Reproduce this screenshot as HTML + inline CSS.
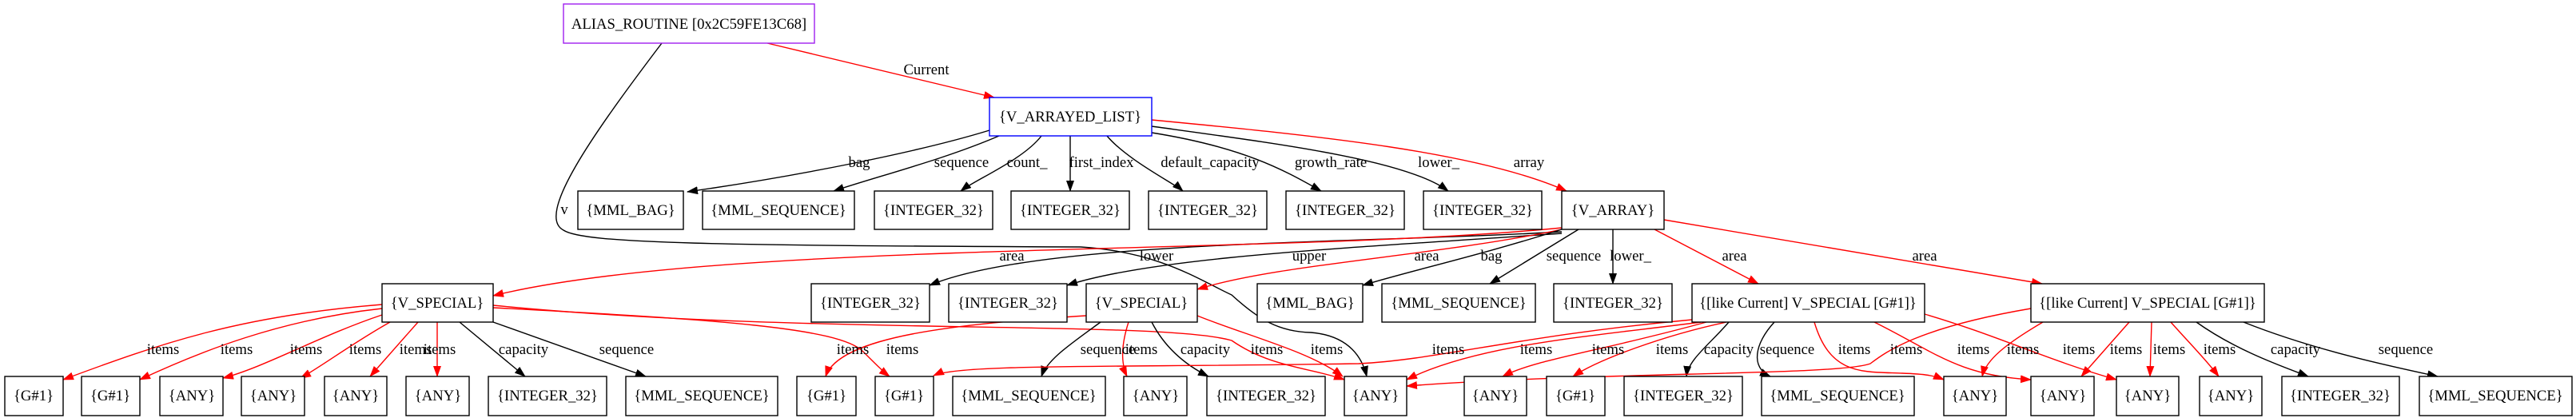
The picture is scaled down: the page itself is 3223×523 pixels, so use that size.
<!DOCTYPE html>
<html><head><meta charset="utf-8"><style>
html,body{margin:0;padding:0;background:#fff;}
svg{display:block;}
text{font-family:"Liberation Serif",serif;font-size:18.7px;fill:#000;}
.n rect{fill:#fff;stroke:#000;stroke-width:1.4;}
.e{fill:none;stroke:#000;stroke-width:1.4;}
.r{fill:none;stroke:#f00;stroke-width:1.4;}
</style></head><body>
<svg width="3223" height="523" viewBox="0 0 3223 523" xmlns="http://www.w3.org/2000/svg">
<defs>
<marker id="ab" markerWidth="14" markerHeight="10" refX="13" refY="5" orient="auto" markerUnits="userSpaceOnUse"><path d="M0,0 L14,5 L0,10z" fill="#000"/></marker>
<marker id="ar" markerWidth="14" markerHeight="10" refX="13" refY="5" orient="auto" markerUnits="userSpaceOnUse"><path d="M0,0 L14,5 L0,10z" fill="#f00"/></marker>
</defs>
<g id="edges">
<path class="r" marker-end="url(#ar)" d="M960,54 L1244,122"/>
<path class="e" marker-end="url(#ab)" d="M828,54 C740,170 670,270 705,288 C730,305 900,307 1352,309 C1450,315 1500,350 1541,369 C1575,400 1600,415 1640,416 C1690,420 1705,450 1710,471"/>
<path class="e" marker-end="url(#ab)" d="M1238,163 C1150,190 1000,220 860,240"/>
<path class="e" marker-end="url(#ab)" d="M1250,170 C1180,200 1100,220 1043,239"/>
<path class="e" marker-end="url(#ab)" d="M1303,170 C1280,200 1220,225 1202,239"/>
<path class="e" marker-end="url(#ab)" d="M1339,170 L1339,239"/>
<path class="e" marker-end="url(#ab)" d="M1385,170 C1410,200 1470,230 1480,239"/>
<path class="e" marker-end="url(#ab)" d="M1441,166 C1560,185 1610,215 1653,239"/>
<path class="e" marker-end="url(#ab)" d="M1441,158 C1600,180 1760,200 1812,239"/>
<path class="r" marker-end="url(#ar)" d="M1441,150 C1650,170 1850,190 1960,239"/>
<path class="e" marker-end="url(#ab)" d="M1954,290 C1700,305 1300,300 1163,357"/>
<path class="e" marker-end="url(#ab)" d="M1954,292 C1700,310 1450,320 1335,357"/>
<path class="r" marker-end="url(#ar)" d="M1954,287 C1800,320 1600,330 1498,362"/>
<path class="r" marker-end="url(#ar)" d="M1954,285 C1600,320 900,300 617,370"/>
<path class="e" marker-end="url(#ab)" d="M1954,287 C1850,320 1760,340 1705,357"/>
<path class="e" marker-end="url(#ab)" d="M1975,287 L1864,355"/>
<path class="e" marker-end="url(#ab)" d="M2018,287 L2018,355"/>
<path class="r" marker-end="url(#ar)" d="M2070,287 L2200,355"/>
<path class="r" marker-end="url(#ar)" d="M2082,275 L2555,355"/>
<path class="r" marker-end="url(#ar)" d="M478,381 C300,395 200,430 79,475"/>
<path class="r" marker-end="url(#ar)" d="M478,386 C350,400 250,440 175,475"/>
<path class="r" marker-end="url(#ar)" d="M478,394 C400,420 330,460 279,473"/>
<path class="r" marker-end="url(#ar)" d="M488,403 C440,430 400,460 376,473"/>
<path class="r" marker-end="url(#ar)" d="M523,403 L463,471"/>
<path class="r" marker-end="url(#ar)" d="M547,403 L547,471"/>
<path class="e" marker-end="url(#ab)" d="M575,403 L657,471"/>
<path class="e" marker-end="url(#ab)" d="M617,403 L808,471"/>
<path class="r" marker-end="url(#ar)" d="M617,385 C900,400 1050,410 1080,440 C1095,455 1105,465 1113,471"/>
<path class="r" marker-end="url(#ar)" d="M617,382 C1000,420 1450,400 1541,426 C1590,460 1640,460 1682,475"/>
<path class="r" marker-end="url(#ar)" d="M1359,395 C1200,405 1050,420 1033,471"/>
<path class="e" marker-end="url(#ab)" d="M1377,403 C1340,430 1310,450 1303,471"/>
<path class="r" marker-end="url(#ar)" d="M1412,403 C1400,440 1405,460 1410,471"/>
<path class="e" marker-end="url(#ab)" d="M1441,403 C1460,440 1490,460 1512,471"/>
<path class="r" marker-end="url(#ar)" d="M1498,395 C1560,420 1640,440 1680,471"/>
<path class="r" marker-end="url(#ar)" d="M2117,400 C1900,420 1800,450 1700,455 C1400,460 1200,455 1168,470"/>
<path class="r" marker-end="url(#ar)" d="M2128,403 C2000,420 1850,430 1760,475"/>
<path class="r" marker-end="url(#ar)" d="M2135,403 C2000,440 1920,450 1880,471"/>
<path class="r" marker-end="url(#ar)" d="M2160,403 C2080,420 2000,450 1968,471"/>
<path class="e" marker-end="url(#ab)" d="M2163,403 C2140,430 2112,450 2110,471"/>
<path class="e" marker-end="url(#ab)" d="M2220,403 C2195,430 2190,460 2215,471"/>
<path class="r" marker-end="url(#ar)" d="M2270,403 C2290,470 2330,465 2380,467 C2410,468 2420,470 2432,475"/>
<path class="r" marker-end="url(#ar)" d="M2345,403 C2420,440 2450,470 2541,475"/>
<path class="r" marker-end="url(#ar)" d="M2408,393 C2500,420 2560,450 2648,475"/>
<path class="r" marker-end="url(#ar)" d="M2541,386 C2400,410 2360,440 2340,455 C2300,470 2000,465 1760,483"/>
<path class="r" marker-end="url(#ar)" d="M2556,403 C2510,430 2485,450 2480,471"/>
<path class="r" marker-end="url(#ar)" d="M2664,403 L2604,471"/>
<path class="r" marker-end="url(#ar)" d="M2692,403 L2690,471"/>
<path class="r" marker-end="url(#ar)" d="M2716,403 C2740,430 2760,450 2776,471"/>
<path class="e" marker-end="url(#ab)" d="M2748,403 C2800,440 2860,460 2888,471"/>
<path class="e" marker-end="url(#ab)" d="M2807,403 C2900,440 3000,460 3050,471"/>
</g>
<g id="labels" text-anchor="middle">
<text x="1159" y="93">Current</text>
<text x="706" y="268">v</text>
<text x="1075" y="209">bag</text><text x="1203" y="209">sequence</text><text x="1285" y="209">count_</text>
<text x="1378" y="209">first_index</text><text x="1514" y="209">default_capacity</text><text x="1665" y="209">growth_rate</text>
<text x="1800" y="209">lower_</text><text x="1913" y="209">array</text>
<text x="1266" y="326">area</text><text x="1447" y="326">lower</text><text x="1638" y="326">upper</text>
<text x="1785" y="326">area</text><text x="1866" y="326">bag</text><text x="1969" y="326">sequence</text>
<text x="2040" y="326">lower_</text><text x="2170" y="326">area</text><text x="2408" y="326">area</text>
<text x="204" y="443">items</text><text x="296" y="443">items</text><text x="383" y="443">items</text>
<text x="457" y="443">items</text><text x="520" y="443">items</text><text x="550" y="443">items</text>
<text x="655" y="443">capacity</text><text x="784" y="443">sequence</text>
<text x="1067" y="443">items</text><text x="1129" y="443">items</text>
<text x="1386" y="443">sequence</text><text x="1428" y="443">items</text><text x="1508" y="443">capacity</text>
<text x="1585" y="443">items</text><text x="1660" y="443">items</text>
<text x="1812" y="443">items</text><text x="1922" y="443">items</text><text x="2012" y="443">items</text>
<text x="2092" y="443">items</text><text x="2163" y="443">capacity</text><text x="2236" y="443">sequence</text>
<text x="2320" y="443">items</text><text x="2385" y="443">items</text><text x="2469" y="443">items</text>
<text x="2531" y="443">items</text><text x="2601" y="443">items</text><text x="2660" y="443">items</text>
<text x="2714" y="443">items</text><text x="2777" y="443">items</text>
<text x="2872" y="443">capacity</text><text x="3010" y="443">sequence</text>
</g>
<g class="n" text-anchor="middle">
<rect x="705" y="5" width="314" height="49" style="stroke:#a020f0"/><text x="862" y="36">ALIAS_ROUTINE [0x2C59FE13C68]</text>
<rect x="1238" y="122" width="203" height="48" style="stroke:#00f"/><text x="1339" y="152">{V_ARRAYED_LIST}</text>
<rect x="723" y="239" width="132" height="48"/><text x="789" y="269">{MML_BAG}</text>
<rect x="879" y="239" width="190" height="48"/><text x="974" y="269">{MML_SEQUENCE}</text>
<rect x="1094" y="239" width="148" height="48"/><text x="1168" y="269">{INTEGER_32}</text>
<rect x="1265" y="239" width="148" height="48"/><text x="1339" y="269">{INTEGER_32}</text>
<rect x="1437" y="239" width="148" height="48"/><text x="1511" y="269">{INTEGER_32}</text>
<rect x="1609" y="239" width="148" height="48"/><text x="1683" y="269">{INTEGER_32}</text>
<rect x="1781" y="239" width="148" height="48"/><text x="1855" y="269">{INTEGER_32}</text>
<rect x="1954" y="239" width="128" height="48"/><text x="2018" y="269">{V_ARRAY}</text>
<rect x="478" y="355" width="139" height="48"/><text x="547" y="385">{V_SPECIAL}</text>
<rect x="1015" y="355" width="148" height="48"/><text x="1089" y="385">{INTEGER_32}</text>
<rect x="1187" y="355" width="148" height="48"/><text x="1261" y="385">{INTEGER_32}</text>
<rect x="1359" y="355" width="139" height="48"/><text x="1428" y="385">{V_SPECIAL}</text>
<rect x="1573" y="355" width="132" height="48"/><text x="1639" y="385">{MML_BAG}</text>
<rect x="1729" y="355" width="192" height="48"/><text x="1825" y="385">{MML_SEQUENCE}</text>
<rect x="1944" y="355" width="148" height="48"/><text x="2018" y="385">{INTEGER_32}</text>
<rect x="2117" y="355" width="291" height="48"/><text x="2262" y="385">{[like Current] V_SPECIAL [G#1]}</text>
<rect x="2541" y="355" width="292" height="48"/><text x="2687" y="385">{[like Current] V_SPECIAL [G#1]}</text>
<rect x="6" y="471" width="73" height="49"/><text x="42" y="501">{G#1}</text>
<rect x="102" y="471" width="73" height="49"/><text x="138" y="501">{G#1}</text>
<rect x="200" y="471" width="79" height="49"/><text x="240" y="501">{ANY}</text>
<rect x="302" y="471" width="79" height="49"/><text x="342" y="501">{ANY}</text>
<rect x="406" y="471" width="78" height="49"/><text x="445" y="501">{ANY}</text>
<rect x="508" y="471" width="79" height="49"/><text x="548" y="501">{ANY}</text>
<rect x="611" y="471" width="148" height="49"/><text x="685" y="501">{INTEGER_32}</text>
<rect x="783" y="471" width="190" height="49"/><text x="878" y="501">{MML_SEQUENCE}</text>
<rect x="997" y="471" width="74" height="49"/><text x="1034" y="501">{G#1}</text>
<rect x="1095" y="471" width="73" height="49"/><text x="1131" y="501">{G#1}</text>
<rect x="1192" y="471" width="191" height="49"/><text x="1287" y="501">{MML_SEQUENCE}</text>
<rect x="1406" y="471" width="79" height="49"/><text x="1446" y="501">{ANY}</text>
<rect x="1510" y="471" width="148" height="49"/><text x="1584" y="501">{INTEGER_32}</text>
<rect x="1682" y="471" width="78" height="49"/><text x="1721" y="501">{ANY}</text>
<rect x="1832" y="471" width="78" height="49"/><text x="1871" y="501">{ANY}</text>
<rect x="1935" y="471" width="73" height="49"/><text x="1971" y="501">{G#1}</text>
<rect x="2032" y="471" width="148" height="49"/><text x="2106" y="501">{INTEGER_32}</text>
<rect x="2204" y="471" width="191" height="49"/><text x="2299" y="501">{MML_SEQUENCE}</text>
<rect x="2432" y="471" width="78" height="49"/><text x="2471" y="501">{ANY}</text>
<rect x="2541" y="471" width="79" height="49"/><text x="2581" y="501">{ANY}</text>
<rect x="2648" y="471" width="78" height="49"/><text x="2687" y="501">{ANY}</text>
<rect x="2752" y="471" width="78" height="49"/><text x="2791" y="501">{ANY}</text>
<rect x="2855" y="471" width="147" height="49"/><text x="2928" y="501">{INTEGER_32}</text>
<rect x="3027" y="471" width="191" height="49"/><text x="3122" y="501">{MML_SEQUENCE}</text>
</g>
</svg>
</body></html>
